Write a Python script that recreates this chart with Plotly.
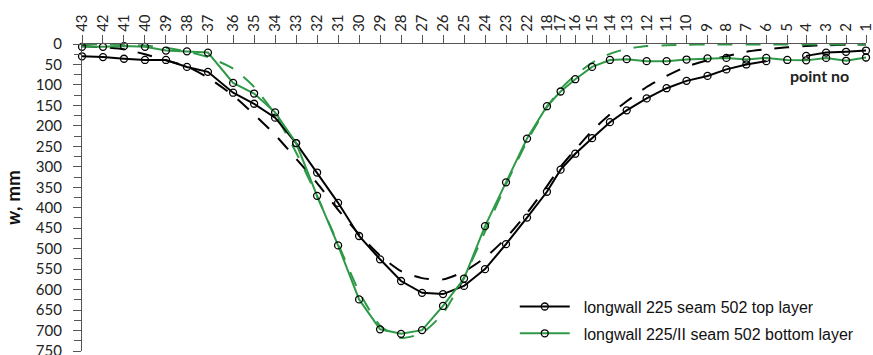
import plotly.graph_objects as go

# point numbers along the measuring line and their distance from point 43 (m)
point_no = ["43", "42", "41", "40", "39", "38", "37", "36", "35", "34", "33", "32", "31", "30",
            "29", "28", "27", "26", "25", "24", "23", "22", "18", "17", "16", "15", "14", "13",
            "12", "11", "10", "9", "8", "7", "6", "5", "4", "3", "2", "1"]
distance = [0, 20, 40, 60, 80, 100, 120, 144, 164, 184, 204, 224, 244, 264,
            284, 304, 324, 344, 364, 384, 404, 424, 443, 456, 470, 486, 503, 519,
            538, 557, 576, 596, 614, 633, 652, 672, 690, 709, 728, 747]

# measured subsidence w [mm]
w_top = [30, 32, 36, 39, 39, 56, 68, 119, 146, 180, 242, 314, 388, 469,
         526, 579, 608, 611, 591, 550, 489, 424, 361, 307, 268, 230, 191, 162,
         133, 108, 90, 78, 62, 50, 42, None, 29, 21, 19, 16]
w_bottom = [7, 7, 5, 7, 16, 18, 21, 95, 121, 167, 242, 371, 492, 624,
            697, 708, 699, 640, 573, 445, 338, 231, 152, 116, 86, 56, 39, 37,
            42, 42, 38, 35, 34, 38, 34, 39, 40, 34, 41, 33]

# predicted subsidence w [mm] (dashed curves)
w_top_pred = [5, 8, 13, 25, 40, 55, 82, 126, 172, 222, 280, 340, 405, 465,
              517, 555, 572, 575, 556, 522, 474, 413, 347, 300, 258, 212, 172, 140,
              105, 78, 55, 40, 30, 19, 13, 8, 5, 3, 2, 1]
w_bottom_pred = [0, 1, 2, 4, 9, 18, 32, 60, 105, 172, 265, 372, 488, 605,
                 688, 718, 706, 658, 570, 458, 343, 238, 155, 110, 76, 46, 24, 12,
                 5, 3, 2, 1, 1, 1, 1, 1, 1, 1, 1, 1]

series_names = ["longwall 225 seam 502 top layer", "longwall 225/II seam 502 bottom layer"]

BLACK = "#000000"
GREEN = "#2E9A48"
FONT = "Lato, 'Liberation Sans', sans-serif"
NB = "\u00a0\u00a0"

fig = go.Figure()

fig.add_trace(go.Scatter(
    x=distance, y=w_top_pred, mode="lines", showlegend=False,
    line=dict(color=BLACK, width=2, dash="15px,13px", shape="spline", smoothing=0.6),
    cliponaxis=False, hoverinfo="skip"))
fig.add_trace(go.Scatter(
    x=distance, y=w_bottom_pred, mode="lines", showlegend=False,
    line=dict(color=GREEN, width=2, dash="15px,13px", shape="spline", smoothing=0.6),
    cliponaxis=False, hoverinfo="skip"))

fig.add_trace(go.Scatter(
    x=distance, y=w_top, mode="lines+markers", name=NB + series_names[0],
    legendgroup="a", connectgaps=False, cliponaxis=False,
    line=dict(color=BLACK, width=2),
    marker=dict(symbol="circle-open", size=7, color=BLACK, line=dict(width=1.3))))
fig.add_trace(go.Scatter(
    x=distance, y=w_bottom, mode="lines+markers", name=NB + series_names[1],
    legendgroup="b", connectgaps=False, cliponaxis=False,
    line=dict(color=GREEN, width=2),
    marker=dict(symbol="circle-open", size=7, color=BLACK, line=dict(width=1.3))))

fig.update_layout(
    width=873, height=355,
    margin=dict(l=82, r=7, t=44, b=4, autoexpand=False),
    paper_bgcolor="white", plot_bgcolor="white",
    font=dict(family=FONT, color="#222222", size=15),
    legend=dict(x=0.552, y=0.20, xanchor="left", yanchor="top",
                font=dict(family="'Liberation Sans', Arial, sans-serif", size=16, color="#111111"),
                bgcolor="rgba(0,0,0,0)", itemwidth=50, tracegroupgap=3),
    annotations=[dict(text="<b>point no</b>", xref="paper", yref="paper",
                      x=0.941, y=0.896, xanchor="center", yanchor="middle", showarrow=False,
                      font=dict(family=FONT, size=16, color="#222222"))],
)

fig.update_xaxes(
    side="top", range=[0, 747], showgrid=False, zeroline=False, automargin=False,
    showline=True, linecolor="#555555", linewidth=1.3,
    tickmode="array", tickvals=distance, ticktext=point_no, tickangle=-90,
    ticks="outside", ticklen=8, tickcolor="#555555", tickwidth=1.3,
    ticklabeloverflow="allow",
    tickfont=dict(family=FONT, size=15, color="#222222"))

fig.update_yaxes(
    range=[750, 0], showgrid=False, zeroline=False, automargin=False,
    showline=True, linecolor="#555555", linewidth=1.3,
    tickmode="linear", tick0=0, dtick=50,
    ticks="outside", ticklen=8, tickcolor="#555555", tickwidth=1.3,
    ticklabelstandoff=8, ticklabeloverflow="allow",
    minor=dict(ticks="outside", ticklen=7, dtick=25, tick0=0, tickcolor="#555555", tickwidth=1.3),
    tickfont=dict(family=FONT, size=15, color="#222222"),
    title=dict(text="<b><i>w</i>, mm</b>", standoff=10,
               font=dict(family=FONT, size=19, color="#111111")))

fig.write_html("out.html", config={"displayModeBar": False},
               post_script="document.body.style.margin='0';document.body.style.overflow='hidden';")
